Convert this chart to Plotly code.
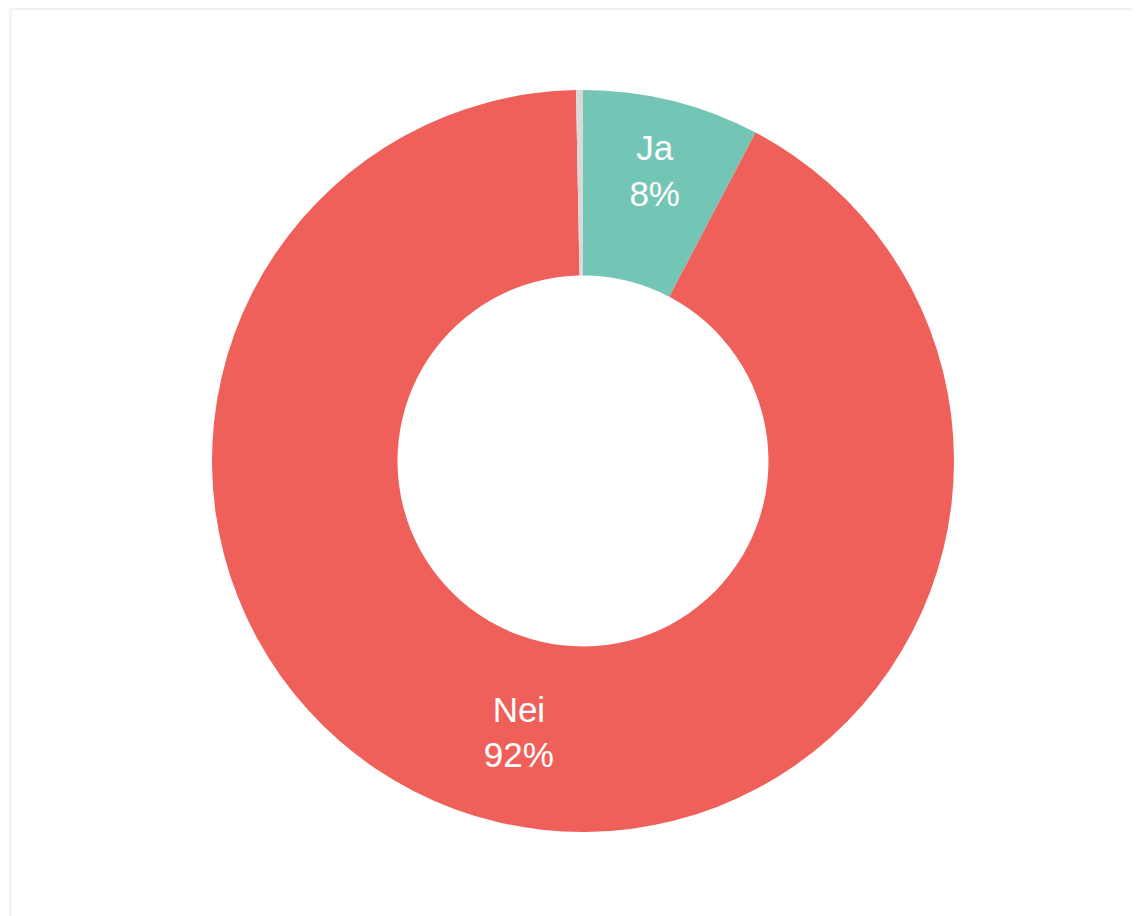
import plotly.graph_objects as go

labels = ["Ja", "Nei", "Vet ikke"]
values = [7.7, 92.0, 0.3]
colors = ["#73C5B5", "#F0605A", "#D9D9D9"]
templates = ["%{label}<br>%{percent:.0%}", "%{label}<br>%{percent:.0%}", ""]

fig = go.Figure(go.Pie(
    labels=labels,
    values=values,
    hole=0.5,
    sort=False,
    direction="clockwise",
    rotation=0,
    marker=dict(colors=colors, line=dict(width=0)),
    texttemplate=templates,
    textposition="inside",
    insidetextorientation="horizontal",
    insidetextfont=dict(color="white", size=35, family="Arial, Liberation Sans, sans-serif"),
    showlegend=False,
))

L, T, H = 17, 82, 742
fig.update_layout(
    width=1141, height=916,
    margin=dict(l=L, r=8, t=T, b=916 - T - H),
    paper_bgcolor="white",
    plot_bgcolor="white",
    shapes=[dict(type="rect", xref="paper", yref="paper",
                 x0=(2.5 - L) / 1116, x1=(1160 - L) / 1116,
                 y0=-0.2, y1=(T + H - 1) / H,
                 line=dict(color="#F2F2F2", width=2), fillcolor="rgba(0,0,0,0)", layer="below")],
)

fig.write_html("out.html")
